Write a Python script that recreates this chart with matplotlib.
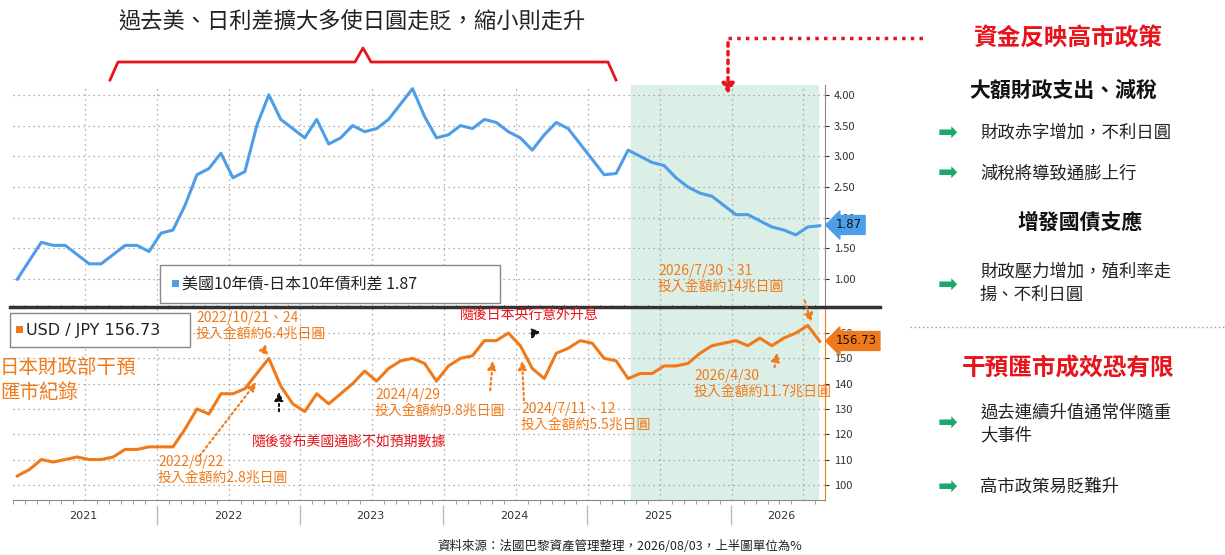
import matplotlib
matplotlib.use("Agg")
import matplotlib.pyplot as plt
import numpy as np
import pandas as pd

plt.rcParams['font.family'] = ['Noto Sans CJK TC', 'DejaVu Sans']

# ---------------- DATA (monthly, Jan 2021 - Aug 2026) ----------------
spread = [1.00, 1.30, 1.60, 1.55, 1.55, 1.40, 1.25, 1.25, 1.40, 1.55, 1.55, 1.45,
          1.75, 1.80, 2.20, 2.70, 2.80, 3.05, 2.65, 2.75, 3.50, 4.00, 3.60, 3.45,
          3.30, 3.60, 3.20, 3.30, 3.50, 3.40, 3.45, 3.60, 3.85, 4.10, 3.65, 3.30,
          3.35, 3.50, 3.45, 3.60, 3.55, 3.40, 3.30, 3.10, 3.35, 3.55, 3.45, 3.20,
          2.95, 2.70, 2.72, 3.10, 3.00, 2.90, 2.85, 2.65, 2.50, 2.40, 2.35, 2.20,
          2.05, 2.05, 1.95, 1.85, 1.80, 1.72, 1.85, 1.87]
usdjpy = [103.5, 106, 110, 109, 110, 111, 110, 110, 111, 114, 114, 115,
          115, 115, 122, 130, 128, 136, 136, 138, 144, 150, 139, 132,
          129, 136, 132, 136, 140, 145, 141, 146, 149, 150, 148, 141,
          147, 150, 151, 157, 157, 160, 155, 146, 142, 152, 154, 157,
          156, 150, 149, 142, 144, 144, 147, 147, 148, 152, 155, 156,
          157, 155, 158, 155, 158, 160, 163, 156.73]
dates = pd.date_range("2021-01-01", periods=len(spread), freq="MS")
t = dates.year + (dates.month - 1) / 12 + 0.03
years = [2021, 2022, 2023, 2024, 2025, 2026]

BLUE = "#4d9ee8"
ORANGE = "#f07a1a"
RED = "#e8131b"
GREEN = "#1aa96b"

W, H = 1225, 555
fig = plt.figure(figsize=(W / 100, H / 100), dpi=100)

def fr(x0, y0, x1, y1):
    return [x0 / W, 1 - y1 / H, (x1 - x0) / W, (y1 - y0) / H]

ax1 = fig.add_axes(fr(13, 85, 825, 305))
ax2 = fig.add_axes(fr(13, 307, 825, 500), sharex=ax1)
xmin, xmax = 2021.0, 2026.65

for ax in (ax1, ax2):
    ax.set_xlim(xmin, xmax)
    ax.axvspan(2025.3, 2026.6, color="#dcefe6", zorder=0)
    ax.grid(True, ls=(0, (1, 3)), color="#999999", lw=0.9)
    ax.set_xticks(np.arange(2021.5, 2026.6, 0.5))
    ax.tick_params(axis="x", length=0, labelbottom=False)
    for s in ("top", "left", "bottom"):
        ax.spines[s].set_visible(False)
    ax.yaxis.tick_right()

ax1.plot(t, spread, color=BLUE, lw=2.2)
ax1.set_ylim(0.58, 4.16)
ax1.set_yticks([1.0, 1.5, 2.0, 2.5, 3.0, 3.5, 4.0])
ax1.set_yticklabels([f"{v:.2f}" for v in [1.0, 1.5, 2.0, 2.5, 3.0, 3.5, 4.0]])
ax1.tick_params(axis="y", labelsize=8, colors="#333333", length=3)
ax1.spines["right"].set_color("#888888")

ax2.plot(t, usdjpy, color=ORANGE, lw=2.2)
ax2.set_ylim(94, 170.3)
ax2.set_yticks(range(100, 161, 10))
ax2.tick_params(axis="y", labelsize=8, colors="#333333", length=3)
ax2.spines["right"].set_color(ORANGE)
ax2.spines["bottom"].set_visible(True)
ax2.spines["bottom"].set_color("#888888")
ax2.set_xticks(np.arange(2021.0, 2026.65, 1 / 12), minor=True)
ax2.tick_params(axis="x", which="minor", length=3, color="#888888")

# ---------------- OVERLAY (pixel coords) ----------------
ov = fig.add_axes([0, 0, 1, 1], zorder=5)
ov.set_xlim(0, W)
ov.set_ylim(H, 0)
ov.axis("off")

# year labels and separators
for x, y in zip([83, 228, 370, 514, 658, 781], years):
    ov.text(x, 516, str(y), ha="center", va="center", fontsize=8, color="#333333",
            family="DejaVu Sans")
for x in [157, 300, 443, 587, 731]:
    ov.plot([x, x], [506, 524], color="#bbbbbb", lw=1)

ov.plot([10, 880], [307, 307], color="#333333", lw=2.5)

# legend boxes
ov.add_patch(plt.Rectangle((160, 265), 340, 38, fc="white", ec="#888888", lw=1))
ov.add_patch(plt.Rectangle((172, 280), 7, 7, fc=BLUE, ec="none"))
ov.text(182, 284, "美國10年債-日本10年債利差 1.87", fontsize=11.5, va="center", color="#222222")
ov.add_patch(plt.Rectangle((10, 313), 180, 34, fc="white", ec="#888888", lw=1))
ov.add_patch(plt.Rectangle((16, 326), 7, 7, fc=ORANGE, ec="none"))
ov.text(26, 330, "USD / JPY 156.73", fontsize=11.5, va="center", color="#222222",
        family="DejaVu Sans")

# value tags
ov.text(836, 225, "1.87", fontsize=8.5, va="center", color="#111111", family="DejaVu Sans",
        bbox=dict(boxstyle="larrow,pad=0.25", fc=BLUE, ec=BLUE))
ov.text(836, 341, "156.73", fontsize=8.5, va="center", color="#111111", family="DejaVu Sans",
        bbox=dict(boxstyle="larrow,pad=0.25", fc=ORANGE, ec=ORANGE))

# title and bracket
ov.text(352, 22, "過去美、日利差擴大多使日圓走貶，縮小則走升", fontsize=16, ha="center",
        va="center", color="#222222", fontweight="medium")
bx = [110, 118, 355, 363, 371, 608, 616]
by = [80, 62, 62, 48, 62, 62, 80]
ov.plot(bx, by, color=RED, lw=2, solid_joinstyle="round")

ov.plot([728, 925], [38, 38], color=RED, lw=2.5, ls=(0, (1, 1.5)))
ov.annotate("", xy=(728, 97), xytext=(728, 40),
            arrowprops=dict(arrowstyle="-|>,head_width=0.35,head_length=0.6", color=RED,
                            lw=2.5, ls=(0, (1, 1.5))))

# annotations on USD/JPY
ov.text(0, 380, "日本財政部干預\n匯市紀錄", fontsize=14, color=ORANGE, va="center",
        linespacing=1.3)
notes = [
    (196, 326, "2022/10/21、24\n投入金額約6.4兆日圓"),
    (158, 470, "2022/9/22\n投入金額約2.8兆日圓"),
    (375, 403, "2024/4/29\n投入金額約9.8兆日圓"),
    (521, 417, "2024/7/11、12\n投入金額約5.5兆日圓"),
    (658, 279, "2026/7/30、31\n投入金額約14兆日圓"),
    (694, 384, "2026/4/30\n投入金額約11.7兆日圓"),
]
for x, y, s in notes:
    ov.text(x, y, s, fontsize=10, color=ORANGE, va="center", linespacing=1.1)
ov.text(460, 315, "隨後日本央行意外升息", fontsize=10, color=RED, va="center")
ov.text(252, 442, "隨後發布美國通膨不如預期數據", fontsize=10, color=RED, va="center")

arrows = [
    ((270, 358), (262, 348), ORANGE),
    ((258, 380), (198, 458), ORANGE),
    ((493, 358), (490, 393), ORANGE),
    ((522, 358), (524, 403), ORANGE),
    ((812, 325), (804, 298), ORANGE),
    ((778, 350), (774, 370), ORANGE),
    ((279, 389), (279, 414), "#111111"),
    ((530, 342), (536, 328), "#111111"),
]
for (x1, y1), (x0, y0), c in arrows:
    ov.annotate("", xy=(x1, y1), xytext=(x0, y0),
                arrowprops=dict(arrowstyle="-|>,head_width=0.25,head_length=0.5", color=c,
                                lw=1.5, ls=(0, (1, 1.5))))

# right panel
ov.text(1068, 38, "資金反映高市政策", fontsize=17, fontweight="bold", color=RED,
        ha="center", va="center")
ov.text(1063, 90, "大額財政支出、減稅", fontsize=15, fontweight="bold", color="#111111",
        ha="center", va="center")
ov.text(1080, 222, "增發國債支應", fontsize=15, fontweight="bold", color="#111111",
        ha="center", va="center")
ov.plot([910, 1225], [327, 327], color="#999999", lw=1, ls=(0, (1, 2)))
ov.text(1068, 369, "干預匯市成效恐有限", fontsize=17, fontweight="bold", color=RED,
        ha="center", va="center")

bullets = [
    (133, 133, "財政赤字增加，不利日圓"),
    (173, 173, "減稅將導致通膨上行"),
    (285, 283, "財政壓力增加，殖利率走\n揚、不利日圓"),
    (423, 424, "過去連續升值通常伴隨重\n大事件"),
    (487, 487, "高市政策易貶難升"),
]
for ya, yt, s in bullets:
    ov.text(948, ya, "➡", fontsize=17, color=GREEN, ha="center", va="center",
            family="DejaVu Sans")
    ov.text(980, yt, s, fontsize=12.5, color="#222222", va="center", linespacing=1.4)

ov.text(620, 546, "資料來源：法國巴黎資產管理整理，2026/08/03，上半圖單位為%", fontsize=9,
        ha="center", va="center", color="#222222")

fig.savefig("out.png", dpi=100)
